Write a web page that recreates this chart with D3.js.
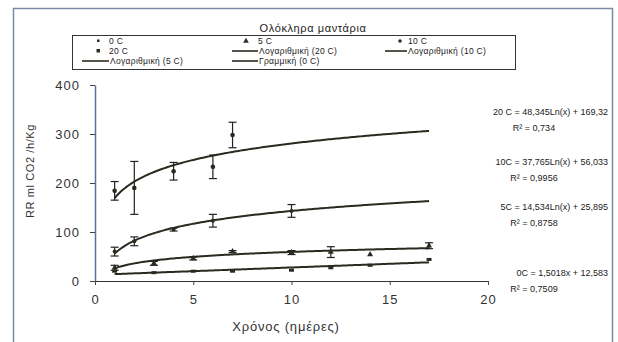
<!DOCTYPE html>
<html><head><meta charset="utf-8">
<script src="https://cdn.jsdelivr.net/npm/d3@7"></script>
<style>body{margin:0;background:#fff}svg{display:block;font-family:"Liberation Sans",Arial,sans-serif}</style>
</head><body><svg id="c" width="618" height="342"></svg>
<script>
// ---- data ----
const xTicks = [0, 5, 10, 15, 20];
const yTicks = [0, 100, 200, 300, 400];

const days20 = [1, 2, 4, 6, 7];
const rr20   = [184, 190, 224, 233, 298];
const err20  = [19, 54, 18, 24, 26];

const days10 = [1, 2, 4, 6, 10];
const rr10   = [60, 81, 105, 123, 143];
const err10  = [9, 9, 3, 13, 13];

const days5 = [1, 3, 5, 7, 10, 12, 14, 17];
const rr5   = [27, 36, 46, 60, 58, 59, 54, 72];
const err5  = [5, 4, 3, 2, 4, 11, 0, 6];

const days0 = [1, 3, 5, 7, 10, 12, 14, 17];
const rr0   = [20, 17, 20, 20, 22, 27, 32, 44];

// trendline coefficients
const fitNames  = ["20 C", "10C", "5C", "0C"];
const fitType   = ["log", "log", "log", "lin"];
const fitA      = [48.345, 37.765, 14.534, 1.5018];
const fitB      = [169.32, 56.033, 25.895, 12.583];
const eqLabels  = ["20 C = 48,345Ln(x) + 169,32", "10C = 37,765Ln(x) + 56,033", "5C = 14,534Ln(x) + 25,895", "0C = 1,5018x + 12,583"];
const r2Labels  = ["R² = 0,734", "R² = 0,9956", "R² = 0,8758", "R² = 0,7509"];
const fitRange  = [1, 17];

const title = "Ολόκληρα μαντάρια";
const xTitle = "Χρόνος (ημέρες)";
const yTitle = "RR ml CO2 /h/Kg";

// ---- drawing ----
const svg = d3.select("#c");
const x = d3.scaleLinear().domain([0, 20]).range([95, 488]);
const y = d3.scaleLinear().domain([0, 400]).range([281, 85]);
const ink = "#2a2a20";

// outer frame
svg.append("path").attr("d", "M13.5,342 V8.5 H612.5 V342").attr("fill", "none").attr("stroke", "#7d8aa6").attr("stroke-width", 1.5);

// title
svg.append("text").attr("x", 313).attr("y", 32).attr("text-anchor", "middle")
  .attr("font-size", 11).attr("letter-spacing", 0.6).attr("fill", "#222").text(title);

// legend box
const lg = svg.append("g");
lg.append("rect").attr("x", 72.5).attr("y", 35.5).attr("width", 443).attr("height", 34)
  .attr("fill", "#fff").attr("stroke", "#333").attr("stroke-width", 1);
const lfs = 8.5;
const r1 = 44, r2 = 54, r3 = 64;
function ltext(xp, yp, t) { lg.append("text").attr("x", xp).attr("y", yp).attr("font-size", lfs).attr("fill", "#222").attr("letter-spacing", 0.3).text(t); }
function lline(x1, x2, yp) { lg.append("line").attr("x1", x1).attr("x2", x2).attr("y1", yp).attr("y2", yp).attr("stroke", ink).attr("stroke-width", 1.6); }
// row1
lg.append("rect").attr("x", 97).attr("y", r1 - 4.5).attr("width", 2.5).attr("height", 2.5).attr("fill", ink);
ltext(109, r1, "0 C");
lg.append("path").attr("d", d3.symbol(d3.symbolTriangle, 14)()).attr("transform", `translate(246,${r1 - 3})`).attr("fill", ink);
ltext(258, r1, "5 C");
lg.append("circle").attr("cx", 400).attr("cy", r1 - 3).attr("r", 1.8).attr("fill", ink);
ltext(408, r1, "10 C");
// row2
lg.append("rect").attr("x", 96.5).attr("y", r2 - 5).attr("width", 3.5).attr("height", 3.5).attr("fill", ink);
ltext(109, r2, "20 C");
lline(232, 258, r2 - 3); ltext(259, r2, "Λογαριθμική (20 C)");
lline(385, 407, r2 - 3); ltext(408, r2, "Λογαριθμική (10 C)");
// row3
lline(82, 109, r3 - 3); ltext(110, r3, "Λογαριθμική (5 C)");
lline(232, 258, r3 - 3); ltext(259, r3, "Γραμμική (0 C)");

// axes
const ya = svg.append("g").attr("transform", "translate(95,0)")
  .call(d3.axisLeft(y).tickValues(yTicks).tickSize(5).tickSizeOuter(0).tickPadding(10));
ya.select(".domain").attr("stroke", "#5b6f9c").attr("stroke-width", 1.5);
ya.selectAll(".tick line").attr("stroke", "#444");
ya.selectAll("text").attr("font-size", 13).attr("letter-spacing", 1).attr("fill", "#333")
  .attr("font-family", "'Liberation Sans',Arial,sans-serif");

const xa = svg.append("g").attr("transform", "translate(0,281)")
  .call(d3.axisBottom(x).tickValues(xTicks).tickSize(4).tickSizeOuter(0).tickPadding(10));
xa.select(".domain").attr("stroke", "#333").attr("stroke-width", 1.2);
xa.selectAll(".tick line").attr("stroke", "#444");
xa.selectAll("text").attr("font-size", 13).attr("letter-spacing", 1).attr("fill", "#333")
  .attr("font-family", "'Liberation Sans',Arial,sans-serif");

svg.append("text").attr("x", 286).attr("y", 331).attr("text-anchor", "middle")
  .attr("font-size", 13).attr("letter-spacing", 0.8).attr("fill", "#333").text(xTitle);
svg.append("text").attr("transform", "translate(34,171) rotate(-90)").attr("text-anchor", "middle")
  .attr("font-size", 11).attr("letter-spacing", 0.6).attr("fill", "#333").text(yTitle);

// trendlines
const line = d3.line().x(d => x(d[0])).y(d => y(d[1])).curve(d3.curveLinear);
const xs = d3.range(fitRange[0], fitRange[1] + 0.001, 0.1);
fitA.forEach((a, i) => {
  const b = fitB[i];
  const pts = xs.map(v => [v, fitType[i] === "log" ? a * Math.log(v) + b : a * v + b]);
  svg.append("path").attr("d", line(pts)).attr("fill", "none").attr("stroke", ink).attr("stroke-width", 2);
});

// error bars + markers
function errbars(days, vals, errs) {
  const g = svg.append("g").attr("stroke", "#222").attr("stroke-width", 1.2);
  days.forEach((d, i) => {
    if (!errs[i]) return;
    const cx = x(d), y1 = y(vals[i] + errs[i]), y2 = y(vals[i] - errs[i]);
    g.append("line").attr("x1", cx).attr("x2", cx).attr("y1", y1).attr("y2", y2);
    g.append("line").attr("x1", cx - 4).attr("x2", cx + 4).attr("y1", y1).attr("y2", y1);
    g.append("line").attr("x1", cx - 4).attr("x2", cx + 4).attr("y1", y2).attr("y2", y2);
  });
}
errbars(days20, rr20, err20);
errbars(days10, rr10, err10);
errbars(days5, rr5, err5);

svg.append("g").selectAll("rect").data(days0).join("rect")
  .attr("x", d => x(d) - 2.5).attr("y", (d, i) => y(rr0[i]) - 1.5).attr("width", 5).attr("height", 3).attr("fill", ink);
svg.append("g").selectAll("path").data(days5).join("path")
  .attr("d", d3.symbol(d3.symbolTriangle, 16)())
  .attr("transform", (d, i) => `translate(${x(d)},${y(rr5[i])})`).attr("fill", ink);
svg.append("g").selectAll("circle").data(days10).join("circle")
  .attr("cx", d => x(d)).attr("cy", (d, i) => y(rr10[i])).attr("r", 2).attr("fill", ink);
svg.append("g").selectAll("circle").data(days20).join("circle")
  .attr("cx", d => x(d)).attr("cy", (d, i) => y(rr20[i])).attr("r", 2.3).attr("fill", ink);

// equations
const eqY = [112, 162, 207, 273];
eqLabels.forEach((t, i) => {
  svg.append("text").attr("x", 608).attr("y", eqY[i] + 3).attr("text-anchor", "end")
    .attr("font-size", 9).attr("fill", "#222").text(t);
  svg.append("text").attr("x", 534).attr("y", eqY[i] + 19).attr("text-anchor", "middle")
    .attr("font-size", 9).attr("fill", "#222").text(r2Labels[i]);
});
</script></body></html>
